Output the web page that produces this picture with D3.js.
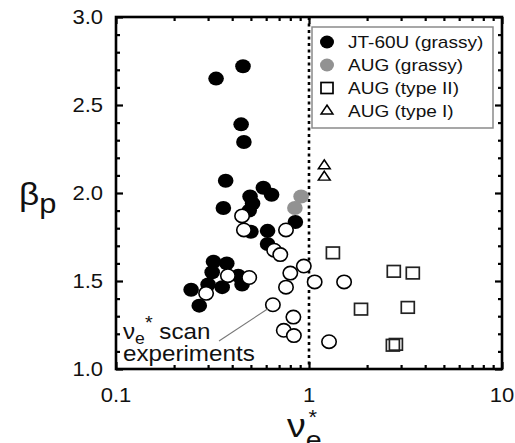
<!DOCTYPE html>
<html>
<head>
<meta charset="utf-8">
<script src="https://cdn.jsdelivr.net/npm/d3@7"></script>
<style>
  body { margin: 0; background: #fff; }
  text { font-family: "Liberation Sans", Arial, sans-serif; fill: #111; }
</style>
</head>
<body>
<div id="chart"></div>
<script>
// data: [nu_e*, beta_p]
const jt60Grassy = [
  [0.33, 2.65], [0.455, 2.72], [0.445, 2.39], [0.46, 2.29], [0.37, 2.07],
  [0.58, 2.03], [0.64, 1.99], [0.495, 1.98], [0.51, 1.94], [0.36, 1.915],
  [0.49, 1.90], [0.85, 1.835], [0.50, 1.78], [0.61, 1.785], [0.61, 1.71],
  [0.32, 1.61], [0.375, 1.60], [0.315, 1.55], [0.43, 1.53], [0.30, 1.48],
  [0.355, 1.465], [0.45, 1.48], [0.245, 1.45], [0.27, 1.36]
];
const augGrassy = [[0.91, 1.98], [0.845, 1.915]];
const augTypeII = [
  [1.33, 1.66], [2.75, 1.555], [3.45, 1.545], [1.86, 1.34],
  [3.25, 1.35], [2.72, 1.135], [2.82, 1.14]
];
const augTypeI = [[1.2, 2.155], [1.2, 2.09]];
const scanExperiments = [
  [0.45, 1.87], [0.46, 1.79], [0.76, 1.79], [0.66, 1.675], [0.71, 1.65],
  [0.94, 1.585], [0.80, 1.545], [0.38, 1.53], [0.49, 1.52], [1.07, 1.495],
  [1.52, 1.495], [0.76, 1.465], [0.293, 1.43], [0.65, 1.365], [0.83, 1.295],
  [0.74, 1.22], [0.835, 1.19], [1.27, 1.155]
];
const xMajor = [0.1, 1, 10];
const xMajorLabels = ['0.1', '1', '10'];
const yMajor = [1.0, 1.5, 2.0, 2.5, 3.0];
const legendLabels = ['JT-60U (grassy)', 'AUG (grassy)', 'AUG (type II)', 'AUG (type I)'];
const calloutPoint = [0.65, 1.365];

const width = 515, height = 443;
const pLeft = 116, pRight = 502, pTop = 17, pBottom = 369;
const sx = 1.1; // the figure is a bit stretched sideways

const svg = d3.select('#chart').append('svg')
  .attr('width', width)
  .attr('height', height);

const x = d3.scaleLog().domain([0.1, 10]).range([pLeft, pRight]);
const y = d3.scaleLinear().domain([1, 3]).range([pBottom, pTop]);

// minor ticks
const xMinor = [];
[0.1, 1].forEach(function (d) { for (let i = 2; i < 10; i++) xMinor.push(d * i); });
const yMinor = d3.range(10, 31).map(function (d) { return d / 10; }).filter(function (d) { return yMajor.indexOf(d) < 0; });

function styleAxis(g) {
  g.select('.domain').remove();
  g.selectAll('line').attr('stroke', '#000').attr('stroke-width', 2.2);
}

svg.append('g').attr('transform', 'translate(0,' + pBottom + ')')
  .call(d3.axisBottom(x).tickValues(xMinor).tickSize(-4).tickFormat(''))
  .call(styleAxis);
svg.append('g').attr('transform', 'translate(0,' + pTop + ')')
  .call(d3.axisTop(x).tickValues(xMinor).tickSize(-4).tickFormat(''))
  .call(styleAxis);
svg.append('g').attr('transform', 'translate(0,' + pBottom + ')')
  .call(d3.axisBottom(x).tickValues(xMajor).tickSize(-7).tickFormat(''))
  .call(styleAxis);
svg.append('g').attr('transform', 'translate(0,' + pTop + ')')
  .call(d3.axisTop(x).tickValues(xMajor).tickSize(-7).tickFormat(''))
  .call(styleAxis);
svg.append('g').attr('transform', 'translate(' + pLeft + ',0)')
  .call(d3.axisLeft(y).tickValues(yMinor).tickSize(-4).tickFormat(''))
  .call(styleAxis);
svg.append('g').attr('transform', 'translate(' + pRight + ',0)')
  .call(d3.axisRight(y).tickValues(yMinor).tickSize(-4).tickFormat(''))
  .call(styleAxis);
svg.append('g').attr('transform', 'translate(' + pLeft + ',0)')
  .call(d3.axisLeft(y).tickValues(yMajor).tickSize(-7).tickFormat(''))
  .call(styleAxis);
svg.append('g').attr('transform', 'translate(' + pRight + ',0)')
  .call(d3.axisRight(y).tickValues(yMajor).tickSize(-7).tickFormat(''))
  .call(styleAxis);

// tick labels
svg.append('g').selectAll('g')
  .data(xMajor)
  .enter().append('g')
  .attr('transform', function (d) { return 'translate(' + x(d) + ',' + (pBottom + 33) + ') scale(' + sx + ',1)'; })
  .append('text')
  .attr('text-anchor', 'middle')
  .attr('font-size', 20)
  .text(function (d, i) { return xMajorLabels[i]; });

svg.append('g').selectAll('g')
  .data(yMajor)
  .enter().append('g')
  .attr('transform', function (d) { return 'translate(' + (pLeft - 13) + ',' + (y(d) + 7) + ') scale(' + sx + ',1)'; })
  .append('text')
  .attr('text-anchor', 'end')
  .attr('font-size', 20)
  .text(function (d) { return d.toFixed(1); });

// vertical dotted line at nu = 1
svg.append('line')
  .attr('x1', x(1)).attr('x2', x(1))
  .attr('y1', pTop).attr('y2', pBottom)
  .attr('stroke', '#000')
  .attr('stroke-width', 2.6)
  .attr('stroke-dasharray', '3,3.5');

// frame
svg.append('rect')
  .attr('x', pLeft).attr('y', pTop)
  .attr('width', pRight - pLeft).attr('height', pBottom - pTop)
  .attr('fill', 'none')
  .attr('stroke', '#000')
  .attr('stroke-width', 2.6);

// points
const marks = svg.append('g');

marks.selectAll('.jt')
  .data(jt60Grassy)
  .enter().append('ellipse')
  .attr('class', 'jt')
  .attr('cx', function (d) { return x(d[0]); })
  .attr('cy', function (d) { return y(d[1]); })
  .attr('rx', 7.8).attr('ry', 7)
  .attr('fill', '#000');

marks.selectAll('.augg')
  .data(augGrassy)
  .enter().append('ellipse')
  .attr('class', 'augg')
  .attr('cx', function (d) { return x(d[0]); })
  .attr('cy', function (d) { return y(d[1]); })
  .attr('rx', 7.8).attr('ry', 7)
  .attr('fill', '#929292');

marks.selectAll('.scan')
  .data(scanExperiments)
  .enter().append('ellipse')
  .attr('class', 'scan')
  .attr('cx', function (d) { return x(d[0]); })
  .attr('cy', function (d) { return y(d[1]); })
  .attr('rx', 7.2).attr('ry', 6.7)
  .attr('fill', '#fff')
  .attr('stroke', '#000')
  .attr('stroke-width', 1.6);

marks.selectAll('.t2')
  .data(augTypeII)
  .enter().append('rect')
  .attr('class', 't2')
  .attr('x', function (d) { return x(d[0]) - 6.5; })
  .attr('y', function (d) { return y(d[1]) - 5.8; })
  .attr('width', 13).attr('height', 11.6)
  .attr('fill', 'none')
  .attr('stroke', '#222')
  .attr('stroke-width', 1.7);

const tri = d3.symbol().type(d3.symbolTriangle).size(50);
marks.selectAll('.t1')
  .data(augTypeI)
  .enter().append('path')
  .attr('class', 't1')
  .attr('d', tri)
  .attr('transform', function (d) { return 'translate(' + x(d[0]) + ',' + y(d[1]) + ') scale(1.1,0.95)'; })
  .attr('fill', '#fff')
  .attr('stroke', '#000')
  .attr('stroke-width', 1.5);

// callout
svg.append('line')
  .attr('x1', x(calloutPoint[0]) - 5).attr('y1', y(calloutPoint[1]) + 4)
  .attr('x2', 219).attr('y2', 341)
  .attr('stroke', '#777')
  .attr('stroke-width', 1.1);

const c1 = svg.append('g').attr('transform', 'translate(123,339) scale(' + sx + ',1)')
  .append('text').attr('font-size', 22);
c1.append('tspan').text('ν');
c1.append('tspan').attr('font-size', 16).attr('dy', 5).text('e');
c1.append('tspan').attr('font-size', 18).attr('dy', -15).text('*');
c1.append('tspan').attr('dy', 10).text(' scan');
svg.append('g').attr('transform', 'translate(123,361) scale(' + sx + ',1)')
  .append('text').attr('font-size', 22).text('experiments');

// axis titles
const yt = svg.append('g').attr('transform', 'translate(19,205) scale(' + sx + ',1)')
  .append('text').attr('font-size', 32);
yt.append('tspan').text('β');
yt.append('tspan').attr('font-size', 28).attr('dy', 8).text('p');

const xt = svg.append('g').attr('transform', 'translate(287,437) scale(' + sx + ',1)')
  .append('text').attr('font-size', 34);
xt.append('tspan').text('ν');
xt.append('tspan').attr('font-size', 26).attr('dy', 12).text('e');
xt.append('tspan').attr('font-size', 20).attr('dx', -12).attr('dy', -25).text('*');

// legend
const lg = svg.append('g');
lg.append('rect')
  .attr('x', 312).attr('y', 27)
  .attr('width', 181).attr('height', 101)
  .attr('fill', '#fff')
  .attr('stroke', '#8a8a8a')
  .attr('stroke-width', 1.5);

const rows = lg.selectAll('.row')
  .data(legendLabels)
  .enter().append('g')
  .attr('class', 'row')
  .attr('transform', function (d, i) { return 'translate(327,' + (42 + i * 23) + ')'; });

rows.each(function (d, i) {
  const g = d3.select(this);
  if (i === 0 || i === 1) {
    g.append('ellipse').attr('rx', 7).attr('ry', 6.5)
      .attr('fill', i === 0 ? '#000' : '#929292');
  } else if (i === 2) {
    g.append('rect').attr('x', -6).attr('y', -5.5).attr('width', 12).attr('height', 11)
      .attr('fill', 'none').attr('stroke', '#000').attr('stroke-width', 1.7);
  } else {
    g.append('path').attr('d', tri).attr('transform', 'scale(1.1,0.95)')
      .attr('fill', '#fff').attr('stroke', '#000').attr('stroke-width', 1.5);
  }
  g.append('g').attr('transform', 'translate(21,6) scale(1.12,1)')
    .append('text').attr('font-size', 17).text(d);
});
</script>
</body>
</html>
